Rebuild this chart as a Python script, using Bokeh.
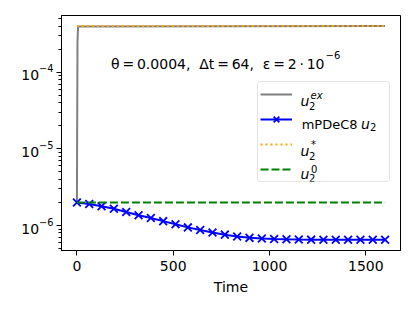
from bokeh.plotting import figure
from bokeh.models import Range1d, FixedTicker, Legend, LegendItem, Label
from bokeh.embed import file_html
from bokeh.resources import INLINE

# ---------------- data ----------------
t_exact = [0, 3, 6, 1600]
u_exact = [2.0e-6, 2.5e-4, 3.95e-4, 4.0e-4]

t_pdec = [0, 64, 128, 192, 256, 320, 384, 448, 512, 576, 640, 704, 768,
          832, 896, 960, 1024, 1088, 1152, 1216, 1280, 1344, 1408, 1472, 1536, 1600]
u_pdec = [2.00e-6, 1.91e-6, 1.78e-6, 1.65e-6, 1.50e-6, 1.36e-6, 1.25e-6, 1.14e-6,
          1.04e-6, 0.945e-6, 0.875e-6, 0.812e-6, 0.760e-6, 0.720e-6, 0.690e-6,
          0.675e-6, 0.665e-6, 0.660e-6, 0.656e-6, 0.654e-6, 0.653e-6, 0.653e-6,
          0.652e-6, 0.652e-6, 0.652e-6, 0.652e-6]

t_star = [0, 1600]
u_star = [4.0e-4, 4.0e-4]

t_init = [0, 1600]
u_init = [2.0e-6, 2.0e-6]

x_ticks = [0, 500, 1000, 1500]
y_ticks = [1e-6, 1e-5, 1e-4]
x_label = "Time"
param_text = ("θ\u2009=\u20090.0004,\u00a0\u00a0Δt\u2009=\u200964,"
              "\u00a0\u00a0ε\u2009=\u20092\u2009·\u200910")
param_exp = "−6"

# ---------------- layout ----------------
FONT = "DejaVu Sans"
X_START, X_END = -80, 1680
LOG_BOT, LOG_TOP = -6.326, -3.2603
FL, FR, FT, FB = 61, 400, 15, 250   # frame edges in page pixels

p = figure(frame_width=FR - FL, frame_height=FB - FT,
           min_border_left=FL, min_border_right=14,
           min_border_top=FT, min_border_bottom=61,
           x_range=Range1d(X_START, X_END),
           y_range=Range1d(10 ** LOG_BOT, 10 ** LOG_TOP),
           y_axis_type="log", output_backend="svg", toolbar_location=None)
p.background_fill_color = "white"
p.border_fill_color = "white"
p.outline_line_color = "black"
p.outline_line_width = 1
p.xgrid.visible = False
p.ygrid.visible = False

p.xaxis.ticker = FixedTicker(ticks=x_ticks)
p.yaxis.ticker = FixedTicker(ticks=y_ticks,
                             minor_ticks=[m * 10.0 ** e for e in (-7, -6, -5, -4) for m in range(2, 10)])
for ax in (p.xaxis[0], p.yaxis[0]):
    ax.axis_line_color = "black"
    ax.major_tick_line_color = "black"
    ax.major_tick_in = 0
    ax.major_tick_out = 5
    ax.minor_tick_in = 0
    ax.minor_tick_out = 3
    ax.major_label_text_font = FONT
    ax.major_label_text_font_size = "14px"
    ax.major_label_text_color = "black"
    ax.axis_label_text_font = FONT
    ax.axis_label_text_font_size = "14px"
    ax.axis_label_text_font_style = "normal"
    ax.axis_label_text_color = "black"
p.xaxis.minor_tick_line_color = None
p.xaxis.major_label_standoff = 5
p.xaxis.axis_label = x_label
p.xaxis.axis_label_standoff = 5
p.yaxis.major_label_standoff = 3

# ---------------- glyphs ----------------
r_ex = p.line(t_exact, u_exact, line_color="gray", line_width=2)
r_pl = p.line(t_pdec, u_pdec, line_color="blue", line_width=2)
r_px = p.scatter(t_pdec, u_pdec, marker="x", size=11, line_color="blue", line_width=1.8)
r_st = p.line(t_star, u_star, line_color="orange", line_width=2, line_dash="2 3")
r_in = p.line(t_init, u_init, line_color="green", line_width=2, line_dash="8 3")

# ---------------- legend (glyphs) ----------------
L_LEFT, L_BOTTOM = 257, 182
legend = Legend(items=[LegendItem(label=" ", renderers=[r_ex]),
                       LegendItem(label=" ", renderers=[r_pl, r_px]),
                       LegendItem(label=" ", renderers=[r_st]),
                       LegendItem(label=" ", renderers=[r_in])],
                location=(L_LEFT - FL, FB - L_BOTTOM),
                padding=2, spacing=5, glyph_height=20, glyph_width=32,
                label_standoff=5, label_width=90, label_height=20,
                margin=0,
                border_line_color="#cccccc", border_line_width=1,
                background_fill_color="white", background_fill_alpha=0.0)
if "border_radius" in legend.properties():
    legend.border_radius = 3
p.add_layout(legend)


def px_x(px):
    return X_START + (px - FL) / (FR - FL) * (X_END - X_START)


def px_y(py):
    return 10 ** (LOG_TOP - (py - FT) / (FB - FT) * (LOG_TOP - LOG_BOT))


def txt(px, py, s, size, style="normal", align="left"):
    p.add_layout(Label(x=px_x(px), y=px_y(py), text=s, text_font=FONT,
                       text_font_size=size, text_font_style=style,
                       text_color="black", text_align=align,
                       text_baseline="alphabetic", level="overlay"))


# parameter annotation
txt(324, 63.5, param_text, "14px", align="right")
txt(325, 54.5, param_exp, "10px")

# legend texts
txt(300, 100, "u", "14px", "italic")
txt(308.5, 105, "2", "10px")
txt(310, 95, "ex", "10px", "italic")

txt(357, 123.5, "mPDeC8", "13px", align="right")
txt(360.5, 123.5, "u", "14px", "italic")
txt(369.5, 126.5, "2", "10px")

txt(300, 150, "u", "14px", "italic")
txt(308.5, 155, "2", "10px")
txt(310.5, 143.5, "*", "10px")

txt(300, 173.5, "u", "14px", "italic")
txt(308.5, 177, "2", "10px")
txt(310.5, 168.5, "0", "10px")

open("out.html", "w").write(file_html(p, INLINE))
